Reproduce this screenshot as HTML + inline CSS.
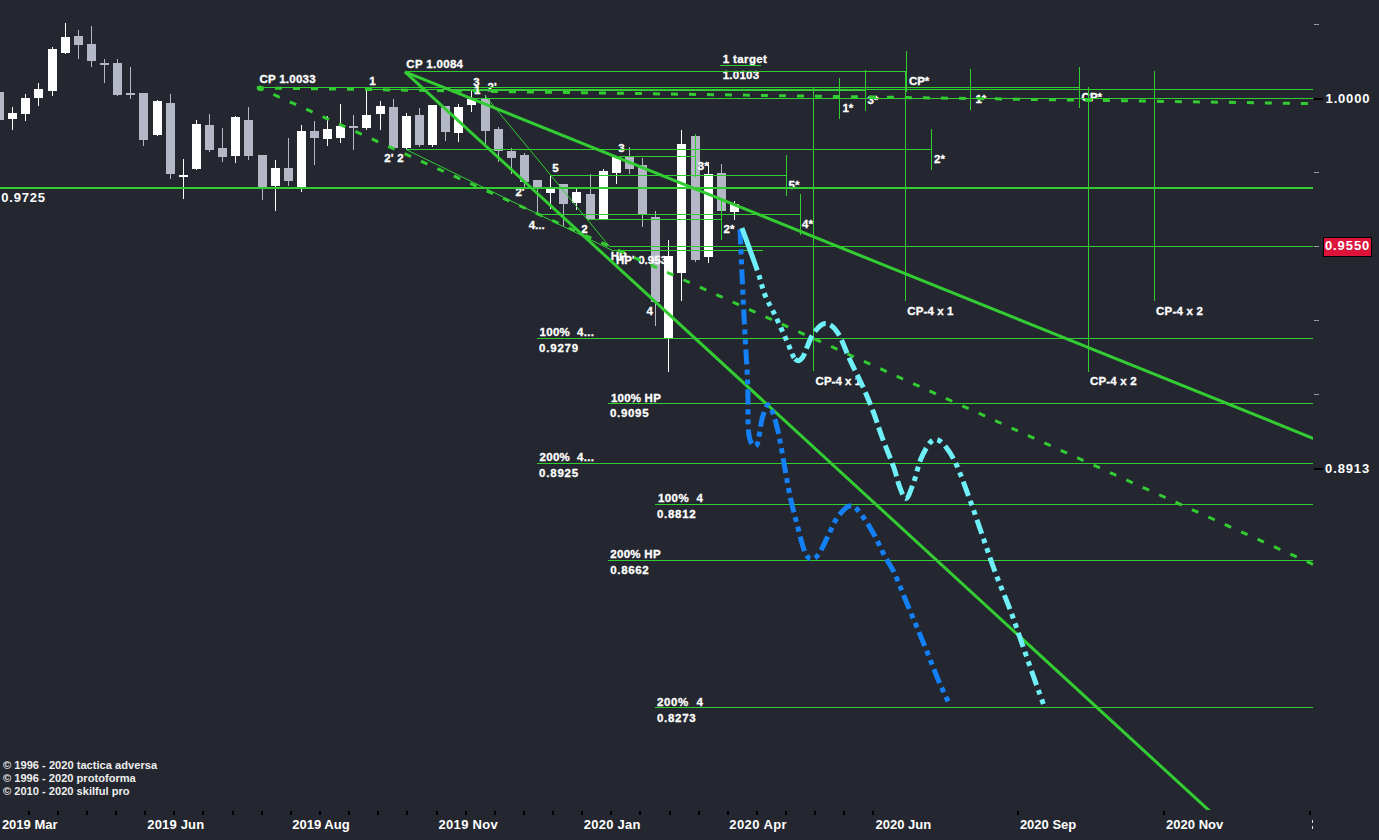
<!DOCTYPE html><html><head><meta charset="utf-8"><style>html,body{margin:0;padding:0;background:#24272f;width:1379px;height:840px;overflow:hidden}svg{display:block}text{font-family:"Liberation Sans",sans-serif;font-weight:bold;fill:#fff}text.s{stroke:#fff;stroke-width:0.3px}</style></head><body>
<svg width="1379" height="840" viewBox="0 0 1379 840">
<rect x="0" y="0" width="1379" height="840" fill="#24272f"/>
<defs><clipPath id="plot"><rect x="0" y="0" width="1313" height="810"/></clipPath></defs>
<rect x="-5" y="92" width="9" height="28" fill="#b4b8c6"/>
<rect x="12" y="107" width="1" height="23" fill="#ffffff"/>
<rect x="8" y="113" width="9" height="6" fill="#ffffff"/>
<rect x="25" y="94" width="1" height="27" fill="#ffffff"/>
<rect x="21" y="98" width="9" height="16" fill="#ffffff"/>
<rect x="38" y="83" width="1" height="23" fill="#ffffff"/>
<rect x="34" y="89" width="9" height="9" fill="#ffffff"/>
<rect x="52" y="47" width="1" height="49" fill="#ffffff"/>
<rect x="48" y="49" width="9" height="42" fill="#ffffff"/>
<rect x="65" y="23" width="1" height="31" fill="#ffffff"/>
<rect x="61" y="37" width="9" height="16" fill="#ffffff"/>
<rect x="78" y="30" width="1" height="29" fill="#b4b8c6"/>
<rect x="74" y="36" width="9" height="9" fill="#b4b8c6"/>
<rect x="91" y="26" width="1" height="41" fill="#b4b8c6"/>
<rect x="87" y="44" width="9" height="17" fill="#b4b8c6"/>
<rect x="104" y="59" width="1" height="24" fill="#b4b8c6"/>
<rect x="100" y="63" width="9" height="2" fill="#b4b8c6"/>
<rect x="117" y="59" width="1" height="37" fill="#b4b8c6"/>
<rect x="113" y="63" width="9" height="32" fill="#b4b8c6"/>
<rect x="130" y="67" width="1" height="32" fill="#b4b8c6"/>
<rect x="126" y="93" width="9" height="2" fill="#b4b8c6"/>
<rect x="143" y="93" width="1" height="53" fill="#b4b8c6"/>
<rect x="139" y="93" width="9" height="47" fill="#b4b8c6"/>
<rect x="157" y="100" width="1" height="36" fill="#ffffff"/>
<rect x="153" y="101" width="9" height="34" fill="#ffffff"/>
<rect x="170" y="94" width="1" height="85" fill="#b4b8c6"/>
<rect x="166" y="103" width="9" height="71" fill="#b4b8c6"/>
<rect x="183" y="159" width="1" height="40" fill="#ffffff"/>
<rect x="179" y="175" width="9" height="2" fill="#ffffff"/>
<rect x="196" y="120" width="1" height="50" fill="#ffffff"/>
<rect x="192" y="124" width="9" height="45" fill="#ffffff"/>
<rect x="209" y="114" width="1" height="38" fill="#b4b8c6"/>
<rect x="205" y="125" width="9" height="25" fill="#b4b8c6"/>
<rect x="222" y="128" width="1" height="34" fill="#b4b8c6"/>
<rect x="218" y="148" width="9" height="9" fill="#b4b8c6"/>
<rect x="235" y="116" width="1" height="47" fill="#ffffff"/>
<rect x="231" y="117" width="9" height="39" fill="#ffffff"/>
<rect x="248" y="107" width="1" height="53" fill="#b4b8c6"/>
<rect x="244" y="120" width="9" height="36" fill="#b4b8c6"/>
<rect x="262" y="155" width="1" height="45" fill="#b4b8c6"/>
<rect x="258" y="155" width="9" height="32" fill="#b4b8c6"/>
<rect x="275" y="160" width="1" height="51" fill="#ffffff"/>
<rect x="271" y="168" width="9" height="18" fill="#ffffff"/>
<rect x="288" y="138" width="1" height="48" fill="#b4b8c6"/>
<rect x="284" y="168" width="9" height="13" fill="#b4b8c6"/>
<rect x="301" y="125" width="1" height="67" fill="#ffffff"/>
<rect x="297" y="131" width="9" height="56" fill="#ffffff"/>
<rect x="314" y="121" width="1" height="44" fill="#b4b8c6"/>
<rect x="310" y="131" width="9" height="7" fill="#b4b8c6"/>
<rect x="327" y="116" width="1" height="30" fill="#ffffff"/>
<rect x="323" y="129" width="9" height="10" fill="#ffffff"/>
<rect x="340" y="104" width="1" height="39" fill="#ffffff"/>
<rect x="336" y="126" width="9" height="12" fill="#ffffff"/>
<rect x="353" y="115" width="1" height="35" fill="#b4b8c6"/>
<rect x="349" y="126" width="9" height="2" fill="#b4b8c6"/>
<rect x="366" y="90" width="1" height="40" fill="#ffffff"/>
<rect x="362" y="115" width="9" height="13" fill="#ffffff"/>
<rect x="380" y="101" width="1" height="29" fill="#ffffff"/>
<rect x="376" y="106" width="9" height="8" fill="#ffffff"/>
<rect x="393" y="99" width="1" height="49" fill="#b4b8c6"/>
<rect x="389" y="107" width="9" height="41" fill="#b4b8c6"/>
<rect x="406" y="113" width="1" height="37" fill="#ffffff"/>
<rect x="402" y="116" width="9" height="32" fill="#ffffff"/>
<rect x="419" y="108" width="1" height="39" fill="#b4b8c6"/>
<rect x="415" y="115" width="9" height="30" fill="#b4b8c6"/>
<rect x="432" y="105" width="1" height="42" fill="#ffffff"/>
<rect x="428" y="105" width="9" height="40" fill="#ffffff"/>
<rect x="445" y="106" width="1" height="35" fill="#b4b8c6"/>
<rect x="441" y="106" width="9" height="26" fill="#b4b8c6"/>
<rect x="458" y="104" width="1" height="38" fill="#ffffff"/>
<rect x="454" y="107" width="9" height="26" fill="#ffffff"/>
<rect x="471" y="91" width="1" height="21" fill="#ffffff"/>
<rect x="467" y="99" width="9" height="6" fill="#ffffff"/>
<rect x="485" y="95" width="1" height="49" fill="#b4b8c6"/>
<rect x="481" y="99" width="9" height="32" fill="#b4b8c6"/>
<rect x="498" y="127" width="1" height="35" fill="#b4b8c6"/>
<rect x="494" y="129" width="9" height="22" fill="#b4b8c6"/>
<rect x="511" y="148" width="1" height="26" fill="#b4b8c6"/>
<rect x="507" y="151" width="9" height="7" fill="#b4b8c6"/>
<rect x="524" y="153" width="1" height="34" fill="#b4b8c6"/>
<rect x="520" y="155" width="9" height="27" fill="#b4b8c6"/>
<rect x="537" y="180" width="1" height="33" fill="#b4b8c6"/>
<rect x="533" y="180" width="9" height="9" fill="#b4b8c6"/>
<rect x="550" y="176" width="1" height="33" fill="#ffffff"/>
<rect x="546" y="189" width="9" height="4" fill="#ffffff"/>
<rect x="563" y="184" width="1" height="42" fill="#b4b8c6"/>
<rect x="559" y="184" width="9" height="20" fill="#b4b8c6"/>
<rect x="576" y="189" width="1" height="21" fill="#ffffff"/>
<rect x="572" y="192" width="9" height="11" fill="#ffffff"/>
<rect x="590" y="174" width="1" height="46" fill="#b4b8c6"/>
<rect x="586" y="194" width="9" height="25" fill="#b4b8c6"/>
<rect x="603" y="169" width="1" height="50" fill="#ffffff"/>
<rect x="599" y="171" width="9" height="48" fill="#ffffff"/>
<rect x="616" y="157" width="1" height="27" fill="#ffffff"/>
<rect x="612" y="157" width="9" height="16" fill="#ffffff"/>
<rect x="629" y="147" width="1" height="27" fill="#b4b8c6"/>
<rect x="625" y="157" width="9" height="12" fill="#b4b8c6"/>
<rect x="642" y="158" width="1" height="69" fill="#b4b8c6"/>
<rect x="638" y="165" width="9" height="49" fill="#b4b8c6"/>
<rect x="655" y="211" width="1" height="115" fill="#b4b8c6"/>
<rect x="651" y="217" width="9" height="85" fill="#b4b8c6"/>
<rect x="668" y="240" width="1" height="132" fill="#ffffff"/>
<rect x="664" y="256" width="9" height="82" fill="#ffffff"/>
<rect x="681" y="130" width="1" height="171" fill="#ffffff"/>
<rect x="677" y="144" width="9" height="129" fill="#ffffff"/>
<rect x="695" y="134" width="1" height="128" fill="#b4b8c6"/>
<rect x="691" y="136" width="9" height="124" fill="#b4b8c6"/>
<rect x="708" y="162" width="1" height="101" fill="#ffffff"/>
<rect x="704" y="174" width="9" height="83" fill="#ffffff"/>
<rect x="721" y="164" width="1" height="47" fill="#b4b8c6"/>
<rect x="717" y="173" width="9" height="38" fill="#b4b8c6"/>
<rect x="734" y="201" width="1" height="19" fill="#ffffff"/>
<rect x="730" y="204" width="9" height="8" fill="#ffffff"/>
<text class="s" x="610.7" y="260.2" font-size="11.5" xml:space="preserve">HP</text>
<text class="s" x="616.0" y="264.0" font-size="11.5" textLength="51.2" lengthAdjust="spacing" xml:space="preserve">HP' 0.953</text>
<text class="s" x="259.4" y="83.1" font-size="11.5" textLength="56.2" lengthAdjust="spacing" xml:space="preserve">CP 1.0033</text>
<text class="s" x="406.3" y="67.6" font-size="11.5" textLength="56.7" lengthAdjust="spacing" xml:space="preserve">CP 1.0084</text>
<text class="s" x="369.3" y="85.0" font-size="11.5" xml:space="preserve">1</text>
<text class="s" x="473.2" y="86.0" font-size="11.5" xml:space="preserve">3</text>
<text class="s" x="487.5" y="91.0" font-size="11.5" xml:space="preserve">2'</text>
<text class="s" x="384.3" y="162.2" font-size="11.5" xml:space="preserve">2'</text>
<text class="s" x="397.3" y="162.2" font-size="11.5" xml:space="preserve">2</text>
<text class="s" x="552.2" y="171.5" font-size="11.5" xml:space="preserve">5</text>
<text class="s" x="618.2" y="152.1" font-size="11.5" xml:space="preserve">3</text>
<text class="s" x="515.4" y="195.5" font-size="11.5" xml:space="preserve">2'</text>
<text class="s" x="528.7" y="228.5" font-size="11.5" textLength="16.0" lengthAdjust="spacing" xml:space="preserve">4...</text>
<text class="s" x="581.3" y="232.9" font-size="11.5" xml:space="preserve">2</text>
<text class="s" x="646.4" y="315.1" font-size="11.5" xml:space="preserve">4</text>
<text class="s" x="697.8" y="170.0" font-size="11.5" xml:space="preserve">3*</text>
<text class="s" x="788.5" y="189.0" font-size="11.5" xml:space="preserve">5*</text>
<text class="s" x="802.0" y="228.0" font-size="11.5" xml:space="preserve">4*</text>
<text class="s" x="723.5" y="232.9" font-size="11.5" xml:space="preserve">2*</text>
<text class="s" x="842.4" y="112.0" font-size="11.5" xml:space="preserve">1*</text>
<text class="s" x="867.4" y="104.0" font-size="11.5" xml:space="preserve">3*</text>
<text class="s" x="908.9" y="85.0" font-size="11.5" xml:space="preserve">CP*</text>
<text class="s" x="934.1" y="163.0" font-size="11.5" xml:space="preserve">2*</text>
<text class="s" x="975.4" y="103.0" font-size="11.5" xml:space="preserve">1*</text>
<text class="s" x="1081.6" y="101.0" font-size="11.5" xml:space="preserve">CP*</text>
<text class="s" x="722.7" y="62.5" font-size="11.5" textLength="44.2" lengthAdjust="spacing" xml:space="preserve">1 target</text>
<text class="s" x="722.7" y="79.0" font-size="11.5" textLength="36.4" lengthAdjust="spacing" xml:space="preserve">1.0103</text>
<text class="s" x="907.3" y="314.7" font-size="11.5" textLength="46.1" lengthAdjust="spacing" xml:space="preserve">CP-4 x 1</text>
<text class="s" x="1156.1" y="314.7" font-size="11.5" textLength="46.7" lengthAdjust="spacing" xml:space="preserve">CP-4 x 2</text>
<text class="s" x="815.6" y="384.7" font-size="11.5" textLength="45.5" lengthAdjust="spacing" xml:space="preserve">CP-4 x 1</text>
<text class="s" x="1089.9" y="384.7" font-size="11.5" textLength="46.8" lengthAdjust="spacing" xml:space="preserve">CP-4 x 2</text>
<text class="s" x="539.5" y="336.3" font-size="11.5" textLength="54.5" lengthAdjust="spacing" xml:space="preserve">100%  4...</text>
<text class="s" x="539.1" y="352.1" font-size="11.5" textLength="39.1" lengthAdjust="spacing" xml:space="preserve">0.9279</text>
<text class="s" x="611.0" y="401.5" font-size="11.5" textLength="49.8" lengthAdjust="spacing" xml:space="preserve">100% HP</text>
<text class="s" x="609.9" y="417.3" font-size="11.5" textLength="38.7" lengthAdjust="spacing" xml:space="preserve">0.9095</text>
<text class="s" x="539.5" y="461.4" font-size="11.5" textLength="54.5" lengthAdjust="spacing" xml:space="preserve">200%  4...</text>
<text class="s" x="539.1" y="477.0" font-size="11.5" textLength="39.1" lengthAdjust="spacing" xml:space="preserve">0.8925</text>
<text class="s" x="657.9" y="502.3" font-size="11.5" textLength="45.0" lengthAdjust="spacing" xml:space="preserve">100%  4</text>
<text class="s" x="657.0" y="518.0" font-size="11.5" textLength="38.7" lengthAdjust="spacing" xml:space="preserve">0.8812</text>
<text class="s" x="610.3" y="558.3" font-size="11.5" textLength="50.3" lengthAdjust="spacing" xml:space="preserve">200% HP</text>
<text class="s" x="610.3" y="574.3" font-size="11.5" textLength="38.4" lengthAdjust="spacing" xml:space="preserve">0.8662</text>
<text class="s" x="656.9" y="705.6" font-size="11.5" textLength="46.0" lengthAdjust="spacing" xml:space="preserve">200%  4</text>
<text class="s" x="656.9" y="721.7" font-size="11.5" textLength="38.8" lengthAdjust="spacing" xml:space="preserve">0.8273</text>
<text x="1.2" y="201.5" font-size="13" textLength="43.9" lengthAdjust="spacing" xml:space="preserve">0.9725</text>
<text x="1325.6" y="103.1" font-size="13" textLength="43.8" lengthAdjust="spacing" xml:space="preserve">1.0000</text>
<text x="1325.1" y="472.5" font-size="13" textLength="44.1" lengthAdjust="spacing" xml:space="preserve">0.8913</text>
<text x="1.9" y="829.0" font-size="13" xml:space="preserve">2019 Mar</text>
<text x="147.3" y="829.0" font-size="13" textLength="56.9" lengthAdjust="spacing" xml:space="preserve">2019 Jun</text>
<text x="292.3" y="829.0" font-size="13" xml:space="preserve">2019 Aug</text>
<text x="438.5" y="829.0" font-size="13" textLength="59.3" lengthAdjust="spacing" xml:space="preserve">2019 Nov</text>
<text x="583.7" y="829.0" font-size="13" textLength="56.7" lengthAdjust="spacing" xml:space="preserve">2020 Jan</text>
<text x="729.3" y="829.0" font-size="13" textLength="57.3" lengthAdjust="spacing" xml:space="preserve">2020 Apr</text>
<text x="875.5" y="829.0" font-size="13" xml:space="preserve">2020 Jun</text>
<text x="1019.9" y="829.0" font-size="13" xml:space="preserve">2020 Sep</text>
<text x="1166.1" y="829.0" font-size="13" xml:space="preserve">2020 Nov</text>
<rect x="405" y="71" width="501" height="1" fill="#33cc33"/>
<rect x="259" y="87" width="821" height="1" fill="#33cc33"/>
<rect x="366" y="89" width="947" height="1" fill="#33cc33"/>
<rect x="471" y="98" width="842" height="1" fill="#33cc33"/>
<rect x="450" y="90" width="415" height="1" fill="#33cc33"/>
<rect x="406" y="149" width="525" height="1" fill="#33cc33"/>
<rect x="619" y="156" width="76" height="1" fill="#33cc33"/>
<rect x="550" y="175" width="236" height="1" fill="#33cc33"/>
<rect x="537" y="214" width="263" height="1" fill="#33cc33"/>
<rect x="587" y="219" width="134" height="1" fill="#33cc33"/>
<rect x="609" y="246" width="704" height="1" fill="#33cc33"/>
<rect x="612" y="250" width="151" height="1" fill="#33cc33"/>
<rect x="537" y="338" width="776" height="1" fill="#33cc33"/>
<rect x="608" y="403" width="705" height="1" fill="#33cc33"/>
<rect x="537" y="463" width="776" height="1" fill="#33cc33"/>
<rect x="655" y="504" width="658" height="1" fill="#33cc33"/>
<rect x="608" y="560" width="705" height="1" fill="#33cc33"/>
<rect x="655" y="707" width="658" height="1" fill="#33cc33"/>
<rect x="906" y="51" width="1" height="41" fill="#33cc33"/>
<rect x="905" y="71" width="1" height="230" fill="#33cc33"/>
<rect x="813" y="87" width="1" height="284" fill="#33cc33"/>
<rect x="839" y="78" width="1" height="41" fill="#33cc33"/>
<rect x="865" y="70" width="1" height="41" fill="#33cc33"/>
<rect x="970" y="69" width="1" height="41" fill="#33cc33"/>
<rect x="931" y="129" width="1" height="41" fill="#33cc33"/>
<rect x="786" y="155" width="1" height="41" fill="#33cc33"/>
<rect x="800" y="194" width="1" height="41" fill="#33cc33"/>
<rect x="721" y="201" width="1" height="39" fill="#33cc33"/>
<rect x="695" y="134" width="1" height="43" fill="#33cc33"/>
<rect x="1079" y="67" width="1" height="41" fill="#33cc33"/>
<rect x="1088" y="87" width="1" height="285" fill="#33cc33"/>
<rect x="1154" y="71" width="1" height="230" fill="#33cc33"/>
<rect x="0" y="187" width="1313" height="2" fill="#33cc33"/>
<rect x="720" y="65" width="41" height="1" fill="#33cc33"/>
<line x1="485" y1="95.5" x2="609.5" y2="246.5" stroke="#33cc33" stroke-width="1"/>
<line x1="406" y1="149.5" x2="612.5" y2="250.5" stroke="#33cc33" stroke-width="1"/>
<line x1="405" y1="71.8" x2="1242.6" y2="841.3" stroke="#33cc33" stroke-width="3" clip-path="url(#plot)"/>
<line x1="405" y1="71.8" x2="1323" y2="442.3" stroke="#33cc33" stroke-width="3" clip-path="url(#plot)"/>
<line x1="257" y1="87.9" x2="1313" y2="103.6" stroke="#33cc33" stroke-width="3" stroke-dasharray="7 11"/>
<line x1="257" y1="87.0" x2="1313" y2="564.3" stroke="#33cc33" stroke-width="3" stroke-dasharray="7 11"/>
<circle cx="260" cy="88.3" r="2.8" fill="#33cc33"/>
<path d="M740,229.5 C740.4,238.8 741.7,267.4 742.5,285 C743.3,302.6 744.1,318.3 745,335 C745.9,351.7 747.2,369.3 747.7,385 C748.2,400.7 747.7,419.4 748.3,429 C748.9,438.6 749.9,440.4 751.4,442.9 C752.9,445.4 755.5,448.1 757.3,444 C759.1,439.9 760.4,424.7 762.2,418.2 C764.0,411.7 766.2,405.7 768,404.8 C769.8,403.9 771.4,409.0 772.9,412.9 C774.4,416.8 776.0,422.9 777.2,427.9 C778.5,432.9 779.1,436.2 780.4,442.9 C781.7,449.6 783.1,458.6 784.8,468 C786.5,477.4 788.7,489.9 790.7,499 C792.7,508.1 794.5,514.6 796.7,522.9 C798.9,531.2 801.6,543.0 803.8,549 C806.0,555.0 807.4,557.6 809.8,558.6 C812.2,559.6 815.0,558.6 818,555 C821.0,551.4 824.4,543.2 827.6,537 C830.8,530.8 833.4,523.1 837,518 C840.6,512.9 845.4,507.4 849,506.2 C852.6,505.0 854.6,506.6 858.6,511 C862.6,515.4 868.5,524.9 872.9,532.4 C877.3,539.9 881.2,549.5 884.8,556.2 C888.4,563.0 890.7,565.3 894.3,572.9 C897.9,580.5 901.4,590.0 906.4,602 C911.4,614.0 918.9,631.9 924.3,645 C929.7,658.1 934.4,670.9 938.6,680.7 C942.8,690.5 947.5,700.1 949.3,704" fill="none" stroke="#1480f8" stroke-width="5" stroke-dasharray="15 5 5 5 5 5"/>
<path d="M742,228 C744.6,235.2 753.7,259.8 757.5,271 C761.3,282.2 762.1,287.7 765,295 C767.9,302.3 771.2,307.1 775,315 C778.8,322.9 784.2,335.2 787.5,342.5 C790.8,349.8 792.5,356.5 795,359" fill="none" stroke="#6ff0f8" stroke-width="5" stroke-dasharray="45.0 5.0 4.5 5.0 4.5 5.0 4.5 5.0 4.5 5.0 4.5 5.0 4.5 5.0 4.5 5.0 4.5 5.0 4.5 5.0 4.5 5.0 0.0 241.6"/>
<path d="M795,359 C797.5,361.5 799.6,361.5 802.5,357.5 C805.4,353.5 808.8,340.7 812.5,335 C816.2,329.3 820.8,323.9 825,323.5 C829.2,323.1 833.3,326.4 837.5,332.5 C841.7,338.6 845.8,350.9 850,360 C854.2,369.1 859.2,378.5 863,387 C866.8,395.5 869.8,402.7 873,411 C876.2,419.3 878.5,427.5 882,437 C885.5,446.5 891.2,460.0 894,468 C896.8,476.0 897.0,479.9 899,485 C901.0,490.1 903.6,498.9 906,498.5" fill="none" stroke="#6ff0f8" stroke-width="5" stroke-dasharray="14.0 5.0 14.0 5.0 14.0 5.0 14.0 5.0 14.0 5.0 14.0 5.0 14.0 5.0 14.0 5.0 14.0 5.0 14.0 5.0 14.0 5.0 14.0 5.0 14.0 5.0 14.0 5.0 0.0 347.9"/>
<path d="M1044,705.7 C1042.5,701.5 1038.6,690.8 1035,680.7 C1031.4,670.6 1026.7,656.9 1022.5,645 C1018.3,633.1 1014.5,621.2 1010,609.3 C1005.5,597.4 1000.2,585.5 995.7,573.6 C991.2,561.7 987.4,549.8 983.2,537.9 C979.0,526.0 975.2,514.2 970.7,502 C966.2,489.8 960.6,473.8 956.4,464.6 C952.2,455.4 949.0,451.0 945.7,446.8 C942.4,442.6 939.5,440.2 936.8,439.6 C934.1,439.0 932.3,439.9 929.6,443.2 C926.9,446.5 923.4,452.8 920.7,459.3 C918.0,465.9 916.1,476.0 913.6,482.5 C911.1,489.0 908.4,498.1 906,498.5" fill="none" stroke="#6ff0f8" stroke-width="5" stroke-dasharray="0.1 2.0 4.8 5.2 4.8 5.2 15.0 5.2 4.8 5.2 4.8 5.2 15.0 5.2 4.8 5.2 4.8 5.2 15.0 5.2 4.8 5.2 4.8 5.2 15.0 5.2 4.8 5.2 4.8 5.2 15.0 5.2 4.8 5.2 4.8 5.2 15.0 5.2 4.8 5.2 4.8 5.2 15.0 5.2 4.8 5.2 4.8 5.2 15.0 5.2 4.8 5.2 4.8 5.2 15.0 5.2 0.0 458.4"/>
<text class="s" x="473.9" y="94.0" font-size="11.5" xml:space="preserve">1</text>
<rect x="1314" y="24" width="5" height="1" fill="#9a9ca3"/>
<rect x="1314" y="172" width="5" height="1" fill="#9a9ca3"/>
<rect x="1314" y="246" width="5" height="1" fill="#9a9ca3"/>
<rect x="1314" y="320" width="5" height="1" fill="#9a9ca3"/>
<rect x="1314" y="394" width="5" height="1" fill="#9a9ca3"/>
<rect x="1314" y="98" width="9" height="2" fill="#000"/>
<rect x="1314" y="468" width="9" height="2" fill="#000"/>
<rect x="1323" y="237" width="49" height="20" fill="#000"/>
<rect x="1324" y="238" width="47" height="18" fill="#dc143c"/>
<text x="1324.9" y="250.4" font-size="13" textLength="44.4" lengthAdjust="spacing" xml:space="preserve">0.9550</text>
<rect x="28" y="811" width="2" height="4" fill="#000"/>
<rect x="57" y="811" width="2" height="4" fill="#000"/>
<rect x="86" y="811" width="2" height="4" fill="#000"/>
<rect x="115" y="811" width="2" height="4" fill="#000"/>
<rect x="144" y="811" width="2" height="4" fill="#000"/>
<rect x="173" y="811" width="2" height="4" fill="#000"/>
<rect x="202" y="811" width="2" height="4" fill="#000"/>
<rect x="232" y="811" width="2" height="4" fill="#000"/>
<rect x="261" y="811" width="2" height="4" fill="#000"/>
<rect x="290" y="811" width="2" height="4" fill="#000"/>
<rect x="319" y="811" width="2" height="4" fill="#000"/>
<rect x="348" y="811" width="2" height="4" fill="#000"/>
<rect x="377" y="811" width="2" height="4" fill="#000"/>
<rect x="406" y="811" width="2" height="4" fill="#000"/>
<rect x="436" y="811" width="2" height="4" fill="#000"/>
<rect x="465" y="811" width="2" height="4" fill="#000"/>
<rect x="494" y="811" width="2" height="4" fill="#000"/>
<rect x="523" y="811" width="2" height="4" fill="#000"/>
<rect x="552" y="811" width="2" height="4" fill="#000"/>
<rect x="581" y="811" width="2" height="4" fill="#000"/>
<rect x="610" y="811" width="2" height="4" fill="#000"/>
<rect x="639" y="811" width="2" height="4" fill="#000"/>
<rect x="669" y="811" width="2" height="4" fill="#000"/>
<rect x="698" y="811" width="2" height="4" fill="#000"/>
<rect x="727" y="811" width="2" height="4" fill="#000"/>
<rect x="756" y="811" width="2" height="4" fill="#000"/>
<rect x="785" y="811" width="2" height="4" fill="#000"/>
<rect x="814" y="811" width="2" height="4" fill="#000"/>
<rect x="843" y="811" width="2" height="4" fill="#000"/>
<rect x="872" y="811" width="2" height="4" fill="#000"/>
<rect x="1017" y="811" width="2" height="4" fill="#000"/>
<rect x="1163" y="811" width="2" height="4" fill="#000"/>
<rect x="1309" y="811" width="2" height="4" fill="#000"/>
<rect x="1312" y="820" width="1" height="3" fill="#dde8ff"/>
<rect x="1312" y="826" width="1" height="3" fill="#dde8ff"/>
<text x="3" y="769.3" font-size="11" textLength="154.1" lengthAdjust="spacingAndGlyphs" style="fill:#eeeeee;stroke:none">© 1996 - 2020 tactica adversa</text>
<text x="3" y="782.2" font-size="11" textLength="132.8" lengthAdjust="spacingAndGlyphs" style="fill:#eeeeee;stroke:none">© 1996 - 2020 protoforma</text>
<text x="3" y="795.2" font-size="11" textLength="126.6" lengthAdjust="spacingAndGlyphs" style="fill:#eeeeee;stroke:none">© 2010 - 2020 skilful pro</text>
</svg></body></html>
